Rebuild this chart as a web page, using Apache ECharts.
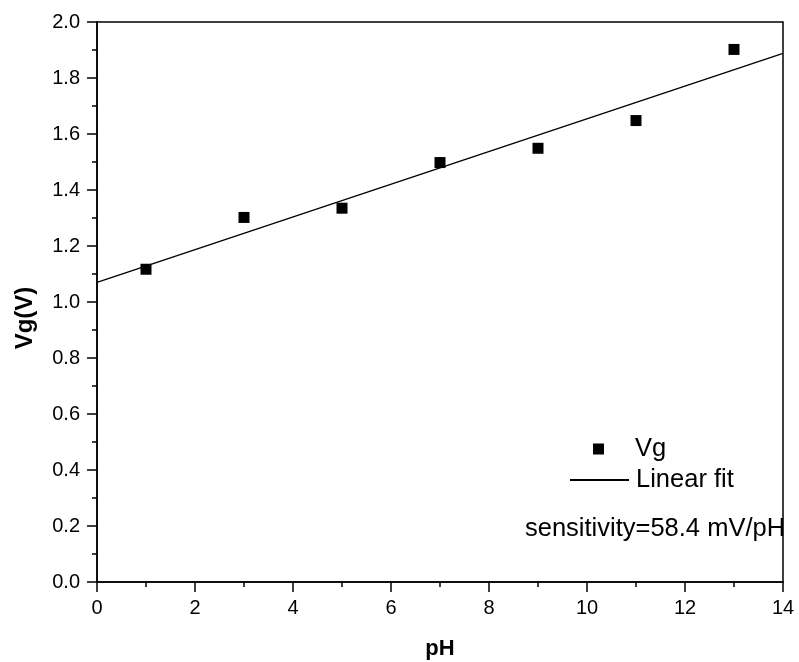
<!DOCTYPE html>
<html><head><meta charset="utf-8">
<script src="https://cdn.jsdelivr.net/npm/echarts@6/dist/echarts.min.js"></script>
<style>html,body{margin:0;padding:0;background:#fff}#c{width:799px;height:662px}</style>
</head><body><div id="c"></div>
<script>
var pH = [1, 3, 5, 7, 9, 11, 13];
var vg = [1.117, 1.302, 1.335, 1.498, 1.549, 1.648, 1.902];
var fitX = [0, 14];
var fitY = [1.070, 1.888];
var xTicks = [0, 2, 4, 6, 8, 10, 12, 14];
var yTicks = [0.0, 0.2, 0.4, 0.6, 0.8, 1.0, 1.2, 1.4, 1.6, 1.8, 2.0];
var sensitivityText = 'sensitivity=58.4 mV/pH';

var FONT = '"Liberation Sans", Arial, sans-serif';
var chart = echarts.init(document.getElementById('c'), null, {renderer: 'canvas'});
var axisCommon = {
  axisLine: {show: true, onZero: false, lineStyle: {color: '#000', width: 1.5}},
  axisTick: {show: true, inside: false, length: 10, lineStyle: {color: '#000', width: 1.5}},
  minorTick: {show: true, splitNumber: 2, length: 5, lineStyle: {color: '#000', width: 1.5}},
  splitLine: {show: false},
  axisLabel: {color: '#000', fontFamily: FONT, fontSize: 20}
};
chart.setOption({
  animation: false,
  backgroundColor: '#fff',
  grid: {left: 97, right: 16, top: 22, bottom: 80, show: true, borderColor: '#000', borderWidth: 1.5,
         containLabel: false, outerBoundsMode: 'none'},
  xAxis: echarts.util.merge({
    type: 'value', min: xTicks[0], max: xTicks[xTicks.length - 1], interval: 2,
    name: 'pH', nameLocation: 'middle', nameGap: 56,
    nameTextStyle: {color: '#000', fontFamily: FONT, fontSize: 22, fontWeight: 'bold'},
    axisLabel: {margin: 16}
  }, axisCommon, false),
  yAxis: echarts.util.merge({
    type: 'value', min: yTicks[0], max: yTicks[yTicks.length - 1], interval: 0.2,
    name: 'Vg(V)', nameLocation: 'middle', nameGap: 60, nameRotate: 90,
    nameTextStyle: {color: '#000', fontFamily: FONT, fontSize: 24, fontWeight: 'bold', padding: [0, 32, 0, 0]},
    axisLabel: {margin: 17, formatter: function (v) { return v.toFixed(1); }}
  }, axisCommon, false),
  legend: [
    {data: [{name: 'Vg', icon: 'rect'}], left: 593, top: 436, padding: 0, itemWidth: 11, itemHeight: 11,
     textStyle: {color: '#000', fontFamily: FONT, fontSize: 25.5, padding: [0, 0, 0, 26]}},
    {data: [{name: 'Linear fit', itemStyle: {opacity: 0}}], left: 569, top: 467, padding: 0, itemWidth: 59, itemHeight: 11,
     textStyle: {color: '#000', fontFamily: FONT, fontSize: 25.5, padding: [0, 0, 0, 2]}}
  ],
  graphic: [{
    type: 'text', left: 525, top: 516,
    style: {text: sensitivityText, fill: '#000', font: '25.5px ' + FONT}
  }],
  series: [
    {name: 'Linear fit', type: 'line', data: fitX.map(function (x, i) { return [x, fitY[i]]; }),
     symbol: 'none', showSymbol: false, itemStyle: {color: '#000'}, lineStyle: {color: '#000', width: 1.3}, z: 2},
    {name: 'Vg', type: 'scatter', data: pH.map(function (x, i) { return [x, vg[i]]; }),
     symbol: 'rect', symbolSize: 11, itemStyle: {color: '#000', opacity: 1}, z: 3}
  ]
});
</script></body></html>
